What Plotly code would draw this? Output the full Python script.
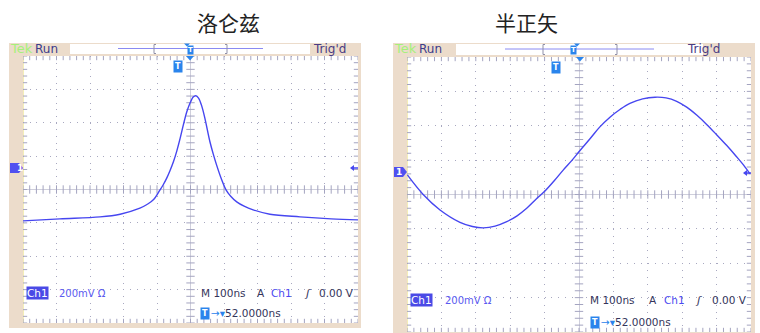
import numpy as np
import plotly.graph_objects as go

W, H = 760, 333

# waveform readings, in screen divisions (x: 100 ns/div, y: 200 mV/div)
lor_t = [-5.0, -3.9, -2.7, -2.1, -1.51, -1.3, -1.11, -0.91, -0.81, -0.71, -0.61, -0.51, -0.41,
         -0.31, -0.21, -0.11, 0.0, 0.08, 0.16, 0.24, 0.33, 0.43, 0.5, 0.58, 0.68, 0.78, 0.92,
         1.06, 1.2, 1.38, 1.6, 1.87, 2.37, 3.27, 4.2, 5.0]
lor_v = [-0.94, -0.88, -0.82, -0.74, -0.56, -0.45, -0.31, -0.01, 0.15, 0.34, 0.57, 0.83, 1.15,
         1.53, 1.95, 2.33, 2.62, 2.77, 2.81, 2.74, 2.52, 2.13, 1.80, 1.43, 1.06, 0.73, 0.32,
         -0.01, -0.20, -0.37, -0.50, -0.61, -0.74, -0.82, -0.88, -0.91]

hav_t = [-4.99, -4.53, -4.04, -3.46, -3.1, -2.78, -2.44, -2.10, -1.80, -1.52, -1.25, -0.99,
         -0.72, -0.46, -0.2, 0.03, 0.32, 0.6, 0.90, 1.2, 1.48, 1.85, 2.21, 2.53, 2.84, 3.13,
         3.42, 3.71, 4.00, 4.29, 4.58, 4.78, 4.97]
hav_v = [0.57, 0.0, -0.45, -0.81, -0.93, -0.97, -0.92, -0.79, -0.62, -0.40, -0.14, 0.10,
         0.40, 0.71, 1.00, 1.28, 1.62, 1.96, 2.25, 2.48, 2.65, 2.78, 2.83, 2.81, 2.71, 2.54,
         2.31, 2.04, 1.74, 1.43, 1.10, 0.86, 0.60]

titles = ["洛仑兹", "半正矢"]

BEIGE = "#ecdccb"
WAVE = "#4646f0"
BADGE = "#2a84ec"
DARK = "#34345a"
GRID = "#a8a8c0"
TICK = "#a4a4c0"


def X(x):
    return x / W


def Y(y):
    return 1 - y / H


panels = [
    dict(ax="", t=lor_t, v=lor_v, frame=(9, 43, 361, 328), grid=(23, 56, 358, 323), title_x=195,
         box=(70, 44, 310, 54), rec=(118, 263, 48.5), brk=(154, 227), hdr_t=187, trig_x=329,
         tek_x=8, run_x=33, hdr_y=48.5, top_arrow=190, tbadge=(173, 66.5), gnd=(10, 168),
         lvl=(350, 168), bot_y=293, ch1_x=26, mv_x=57, m_x=199, a_x=255, ch_x=269, sl_x=302,
         v_x=356, t_y=313, t_x=200),
    dict(ax="2", t=hav_t, v=hav_v, frame=(393, 43, 755, 334), grid=(407, 57, 751, 332), title_x=560,
         box=(456, 44, 703, 55), rec=(505, 654, 49), brk=(543, 617), hdr_t=577, trig_x=722,
         tek_x=392, run_x=417, hdr_y=48.5, top_arrow=580, tbadge=(561, 67), gnd=(394, 172),
         lvl=(743, 173), bot_y=300, ch1_x=410, mv_x=443, m_x=588, a_x=647, ch_x=662, sl_x=693,
         v_x=749, t_y=322, t_x=590),
]

fig = go.Figure()
shapes = []
annots = []

tx = [round(v, 2) for v in np.arange(-5, 5.001, 0.2)]
ty = [round(v, 2) for v in np.arange(-4, 4.001, 0.2)]

for i, p in enumerate(panels):
    xa, ya = "x" + p["ax"], "y" + p["ax"]
    gx0, gy0, gx1, gy1 = p["grid"]
    fx0, fy0, fx1, fy1 = p["frame"]

    # frame + screen -------------------------------------------------------
    shapes.append(dict(type="rect", xref="paper", yref="paper", layer="below",
                       x0=X(fx0), x1=X(fx1), y0=Y(fy1), y1=Y(fy0),
                       fillcolor=BEIGE, line_width=0))
    shapes.append(dict(type="rect", xref="paper", yref="paper", layer="below",
                       x0=X(gx0), x1=X(gx1), y0=Y(gy1), y1=Y(gy0),
                       fillcolor="white", line_width=0))
    shapes.append(dict(type="line", xref="paper", yref="paper", layer="below",
                       x0=X(gx0 + 0.5), x1=X(gx0 + 0.5), y0=Y(gy1), y1=Y(gy0),
                       line=dict(color="#f4eeb8", width=1)))

    # header bar
    bx0, by0, bx1, by1 = p["box"]
    shapes.append(dict(type="rect", xref="paper", yref="paper", layer="below",
                       x0=X(bx0), x1=X(bx1), y0=Y(by1), y1=Y(by0),
                       fillcolor="white", line_width=0))
    r0, r1, ry = p["rec"]
    shapes.append(dict(type="line", xref="paper", yref="paper",
                       x0=X(r0), x1=X(r1), y0=Y(ry), y1=Y(ry),
                       line=dict(color="#8a8af2", width=1)))
    for k, bxx in enumerate(p["brk"]):
        d = 2 if k == 0 else -2
        shapes.append(dict(type="path", xref="paper", yref="paper",
                           path=f"M{X(bxx + d)},{Y(by0 + 0.5)} L{X(bxx)},{Y(by0 + 0.5)} "
                                f"L{X(bxx)},{Y(by1 - 0.5)} L{X(bxx + d)},{Y(by1 - 0.5)}",
                           line=dict(color="#9090a8", width=1)))
    ht = p["hdr_t"]
    shapes.append(dict(type="path", xref="paper", yref="paper",
                       path=f"M{X(ht - 3)},{Y(43.5)} L{X(ht + 3)},{Y(43.5)} L{X(ht)},{Y(46.5)} Z",
                       fillcolor=BADGE, line_width=0))
    annots.append(dict(x=X(ht), y=Y(50.5), text="<b>T</b>", font=dict(size=7, color="white"),
                       bgcolor=BADGE, borderpad=0))
    annots.append(dict(x=X(p["tek_x"]), y=Y(p["hdr_y"]), text="Tek", xanchor="left",
                       font=dict(size=13, color="#a6f07a")))
    annots.append(dict(x=X(p["run_x"]), y=Y(p["hdr_y"]), text="Run", xanchor="left",
                       font=dict(size=12, color="#3c3c8c")))
    annots.append(dict(x=X(p["trig_x"]), y=Y(p["hdr_y"]), text="Trig'd",
                       font=dict(size=12, color="#4a3c84")))

    # title
    annots.append(dict(x=X(p["title_x"]), y=Y(22), text=titles[i],
                       font=dict(size=21, color="#222222", family="Noto Sans CJK SC")))

    # trigger position arrow + badge
    ta = p["top_arrow"]
    shapes.append(dict(type="path", xref="paper", yref="paper",
                       path=f"M{X(ta - 4)},{Y(gy0)} L{X(ta + 4)},{Y(gy0)} L{X(ta)},{Y(gy0 + 4.5)} Z",
                       fillcolor=BADGE, line_width=0))
    bxp, byp = p["tbadge"]
    annots.append(dict(x=X(bxp), y=Y(byp), text="<b>T</b>", font=dict(size=8, color="white"),
                       bgcolor=BADGE, borderpad=1))

    # ground marker "1"
    g0, gy = p["gnd"]
    shapes.append(dict(type="path", xref="paper", yref="paper",
                       path=f"M{X(g0)},{Y(gy - 5)} L{X(g0 + 9)},{Y(gy - 5)} L{X(gx0)},{Y(gy)} "
                            f"L{X(g0 + 9)},{Y(gy + 5)} L{X(g0)},{Y(gy + 5)} Z",
                       fillcolor="#5050f0", line_width=0))
    annots.append(dict(x=X(g0 + 5), y=Y(gy), text="<b>1</b>", font=dict(size=9, color="white")))

    # trigger level arrow on right edge
    lx, lyy = p["lvl"]
    shapes.append(dict(type="path", xref="paper", yref="paper",
                       path=f"M{X(lx)},{Y(lyy)} L{X(lx + 4)},{Y(lyy - 3)} L{X(lx + 4)},{Y(lyy + 3)} Z",
                       fillcolor=WAVE, line_width=0))
    shapes.append(dict(type="line", xref="paper", yref="paper",
                       x0=X(lx + 4), x1=X(gx1), y0=Y(lyy), y1=Y(lyy),
                       line=dict(color=WAVE, width=1.5)))

    # bottom readouts
    yb = p["bot_y"]
    annots.append(dict(x=X(p["ch1_x"]), y=Y(yb), text="Ch1", xanchor="left",
                       font=dict(size=10.5, color="white"), bgcolor="#4a4ae6", borderpad=0))
    annots.append(dict(x=X(p["mv_x"]), y=Y(yb), text="200mV Ω", xanchor="left",
                       font=dict(size=10, color="#5a5af0")))
    annots.append(dict(x=X(p["m_x"]), y=Y(yb), text="M 100ns", xanchor="left",
                       font=dict(size=10.5, color=DARK)))
    annots.append(dict(x=X(p["a_x"]), y=Y(yb), text="A", xanchor="left",
                       font=dict(size=10.5, color=DARK)))
    annots.append(dict(x=X(p["ch_x"]), y=Y(yb), text="Ch1", xanchor="left",
                       font=dict(size=10.5, color="#4a4af0")))
    annots.append(dict(x=X(p["sl_x"]), y=Y(yb), text="<i>ʃ</i>", xanchor="left",
                       font=dict(size=11, color=DARK)))
    annots.append(dict(x=X(p["v_x"]), y=Y(yb), text="0.00 V", xanchor="right",
                       font=dict(size=10.5, color=DARK)))
    ty_ = p["t_y"]
    annots.append(dict(x=X(p["t_x"]), y=Y(ty_), text="<b>T</b>", xanchor="left",
                       font=dict(size=8, color="white"), bgcolor=BADGE, borderpad=1))
    annots.append(dict(x=X(p["t_x"] + 9), y=Y(ty_), xanchor="left",
                       text=f"<span style='color:{BADGE}'>→▾</span>52.0000ns",
                       font=dict(size=10.5, color=DARK)))

    # division ticks on centre cross and screen edges
    xs = tx * 3 + [0] * len(ty) + [-5] * len(ty) + [5] * len(ty)
    ys = [0] * len(tx) + [4] * len(tx) + [-4] * len(tx) + ty * 3
    sym = ["line-ns"] * (3 * len(tx)) + ["line-ew"] * (3 * len(ty))
    fig.add_trace(go.Scatter(x=xs, y=ys, mode="markers", xaxis=xa, yaxis=ya, hoverinfo="skip",
                             marker=dict(symbol=sym, size=6, color=TICK,
                                         line=dict(color=TICK, width=1))))

    # waveform
    fig.add_trace(go.Scatter(x=p["t"], y=p["v"], mode="lines", xaxis=xa, yaxis=ya,
                             hoverinfo="skip",
                             line=dict(color=WAVE, width=1.4, shape="spline", smoothing=1.0)))

    gw, gh = gx1 - gx0, gy1 - gy0
    axcommon = dict(showticklabels=False, ticks="", showline=False, zeroline=True,
                    zerolinecolor="#cfcfdc", zerolinewidth=1, showgrid=True, gridcolor=GRID,
                    gridwidth=1, dtick=1, tick0=0, fixedrange=True)
    fig.update_layout({
        "xaxis" + p["ax"]: dict(axcommon, domain=[X(gx0), X(gx1)], range=[-5, 5], anchor=ya,
                                griddash=f"1px,{gh / 40 - 1:.2f}px"),
        "yaxis" + p["ax"]: dict(axcommon, domain=[Y(gy1), Y(gy0)], range=[-4, 4], anchor=xa,
                                griddash=f"1px,{gw / 50 - 1:.2f}px"),
    })

for a in annots:
    a.setdefault("xref", "paper")
    a.setdefault("yref", "paper")
    a.setdefault("showarrow", False)
    a.setdefault("yanchor", "middle")

fig.update_layout(
    width=W, height=H,
    margin=dict(l=0, r=0, t=0, b=0, pad=0),
    paper_bgcolor="white",
    plot_bgcolor="rgba(0,0,0,0)",
    font=dict(family="DejaVu Sans", color=DARK),
    showlegend=False,
    shapes=shapes,
    annotations=annots,
)

# page body has a default 8px margin; drop it so the figure sits at the window origin
fig.write_html("out.html", config={"displayModeBar": False},
               post_script="document.body.style.margin='0';document.body.style.overflow='hidden';")
